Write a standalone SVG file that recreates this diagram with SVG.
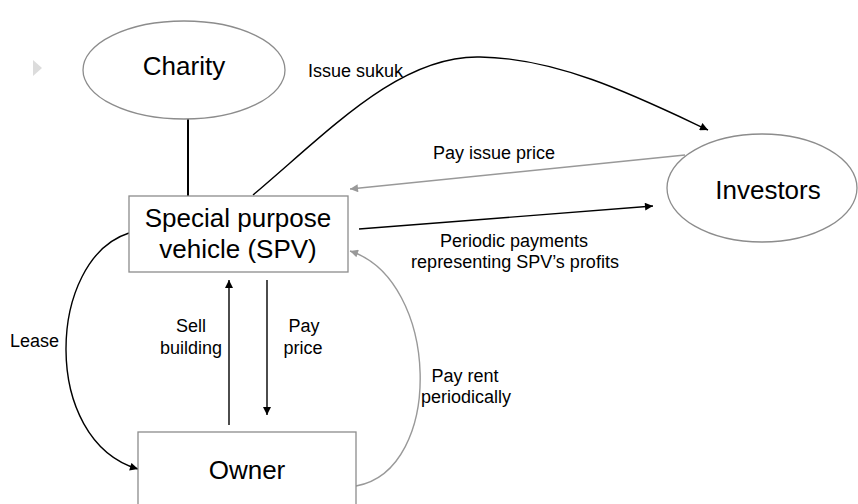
<svg xmlns="http://www.w3.org/2000/svg" width="858" height="504" viewBox="0 0 858 504">
<style>
  .node { fill: #ffffff; stroke: #8c8c8c; stroke-width: 1.3; }
  .big { font-family: "Liberation Sans", Arial, sans-serif; font-size: 26px; fill: #000; text-anchor: middle; }
  .lbl { font-family: "Liberation Sans", Arial, sans-serif; font-size: 18px; fill: #000; }
  .c { text-anchor: middle; }
  .blk { fill: none; stroke: #000; stroke-width: 1.4; }
  .gry { fill: none; stroke: #999; stroke-width: 1.4; }
</style>
<defs>
  <marker id="ab" viewBox="0 0 10 10" refX="10" refY="5" markerWidth="9" markerHeight="8" markerUnits="userSpaceOnUse" orient="auto">
    <path d="M0,0 L10,5 L0,10 z" fill="#000"/>
  </marker>
  <marker id="ag" viewBox="0 0 10 10" refX="10" refY="5" markerWidth="9" markerHeight="8" markerUnits="userSpaceOnUse" orient="auto">
    <path d="M0,0 L10,5 L0,10 z" fill="#999"/>
  </marker>
</defs>
<rect width="858" height="504" fill="#fff"/>
<polygon points="33,60 42,68 33,76" fill="#dcdcdc"/>
<g id="connectors">
  <line x1="188" y1="119" x2="188" y2="196" stroke="#000" stroke-width="2"/>
  <path class="blk" d="M253,195 C330,130 400,55 480,57 C560,58 640,98 708,130" marker-end="url(#ab)"/>
  <line class="gry" x1="685" y1="155" x2="350" y2="189" marker-end="url(#ag)"/>
  <line class="blk" x1="359" y1="229" x2="653" y2="206" marker-end="url(#ab)"/>
  <path class="blk" d="M129,233 C47,259 40,440 138,469" marker-end="url(#ab)"/>
  <path class="gry" d="M356,486 C445,470 440,280 350,251" marker-end="url(#ag)"/>
  <line class="blk" x1="229" y1="425" x2="229" y2="280" marker-end="url(#ab)"/>
  <line class="blk" x1="267" y1="280" x2="267" y2="415" marker-end="url(#ab)"/>
  <text class="lbl" x="308" y="77">Issue sukuk</text>
  <text class="lbl" x="433" y="159">Pay issue price</text>
  <text class="lbl c" x="514" y="247">Periodic payments</text>
  <text class="lbl c" x="515" y="268">representing SPV’s profits</text>
  <text class="lbl" x="10" y="347">Lease</text>
  <text class="lbl c" x="191" y="332">Sell</text>
  <text class="lbl c" x="191" y="354">building</text>
  <text class="lbl c" x="304" y="332">Pay</text>
  <text class="lbl c" x="303" y="354">price</text>
  <text class="lbl c" x="465" y="382">Pay rent</text>
  <text class="lbl c" x="466" y="403">periodically</text>
</g>
<g id="charity">
  <ellipse class="node" cx="184" cy="70" rx="101" ry="49"/>
  <text class="big" x="184" y="75">Charity</text>
</g>
<g id="investors">
  <ellipse class="node" cx="762" cy="188" rx="95" ry="54"/>
  <text class="big" x="768" y="199">Investors</text>
</g>
<g id="spv">
  <rect class="node" x="129" y="196" width="219" height="76"/>
  <text class="big" x="238" y="227">Special purpose</text>
  <text class="big" x="238" y="258">vehicle (SPV)</text>
</g>
<g id="owner">
  <rect class="node" x="138" y="432" width="218" height="80"/>
  <text class="big" x="247" y="479">Owner</text>
</g>
</svg>
